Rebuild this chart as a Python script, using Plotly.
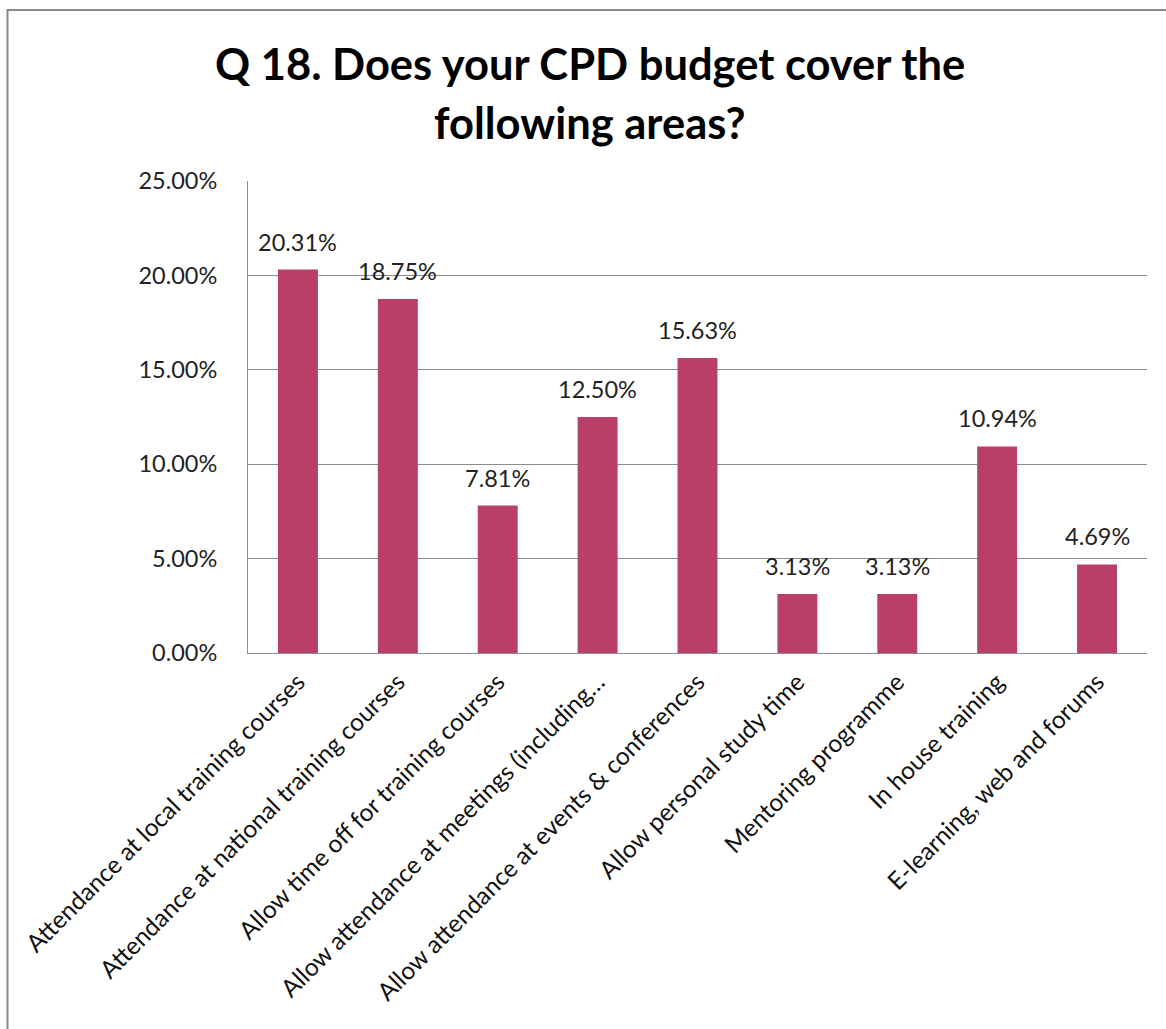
import plotly.graph_objects as go

# Survey responses: share of respondents per CPD budget area
categories = [
    "Attendance at local training courses",
    "Attendance at national training courses",
    "Allow time off for training courses",
    "Allow attendance at meetings (including…",
    "Allow attendance at events & conferences",
    "Allow personal study time",
    "Mentoring programme",
    "In house training",
    "E-learning, web and forums",
]
shares = [20.31, 18.75, 7.81, 12.50, 15.63, 3.13, 3.13, 10.94, 4.69]
y_ticks = [0, 5, 10, 15, 20, 25]
y_tick_labels = ["0.00%", "5.00%", "10.00%", "15.00%", "20.00%", "25.00%"]
title_lines = ["Q 18. Does your CPD budget cover the", "following areas?"]

W, H = 1166, 1029
ML, MR, MT, MB = 248, 19, 181, 376
PW, PH = W - ML - MR, H - MT - MB

BAR = "#B93E68"
GRID = "#8C8C8C"
FONT = "Lato, 'Open Sans', sans-serif"

fig = go.Figure()
fig.add_trace(go.Bar(
    x=categories, y=shares, marker=dict(color=BAR, line=dict(width=0)),
    width=0.4, hoverinfo="skip",
))

# value labels above each bar
for c, v in zip(categories, shares):
    fig.add_annotation(
        x=c, y=v, text=f"{v:.2f}%", showarrow=False,
        xanchor="center", yanchor="bottom", yshift=12,
        font=dict(family=FONT, size=23.5, color="#222"),
    )

# two-line heading
for i, line in enumerate(title_lines):
    py = 63 + 59 * i
    fig.add_annotation(
        xref="paper", yref="paper",
        x=(590 - ML) / PW, y=(H - MB - py) / PH,
        text=f"<b>{line}</b>", showarrow=False,
        xanchor="center", yanchor="middle",
        font=dict(family=FONT, size=43.5, color="#000"),
    )

# outer chart frame (left and top edges visible)
fig.add_shape(
    type="rect", xref="paper", yref="paper",
    x0=(7.5 - ML) / PW, x1=(W + 20 - ML) / PW,
    y0=(H - MB - (H + 20)) / PH, y1=(H - MB - 10) / PH,
    line=dict(color="#8A8A8A", width=2), fillcolor="rgba(0,0,0,0)",
    layer="below",
)

fig.update_layout(
    width=W, height=H,
    margin=dict(l=ML, r=MR, t=MT, b=MB, pad=0),
    paper_bgcolor="white", plot_bgcolor="white",
    showlegend=False, bargap=0.6,
    font=dict(family=FONT, size=20, color="#222"),
)
fig.update_xaxes(
    tickangle=-45, tickfont=dict(family=FONT, size=24.5, color="#111"),
    showline=True, linecolor=GRID, linewidth=1, showgrid=False,
    ticks="", ticklabelstandoff=4, automargin=False,
)
fig.update_yaxes(
    range=[0, 25], tickvals=y_ticks, ticktext=y_tick_labels,
    tickfont=dict(family=FONT, size=23.5, color="#222"),
    showgrid=True, gridcolor=GRID, gridwidth=1,
    showline=True, linecolor=GRID, linewidth=1,
    zeroline=False, ticks="", ticklabelstandoff=25, automargin=False,
)

fig.write_html("out.html")
